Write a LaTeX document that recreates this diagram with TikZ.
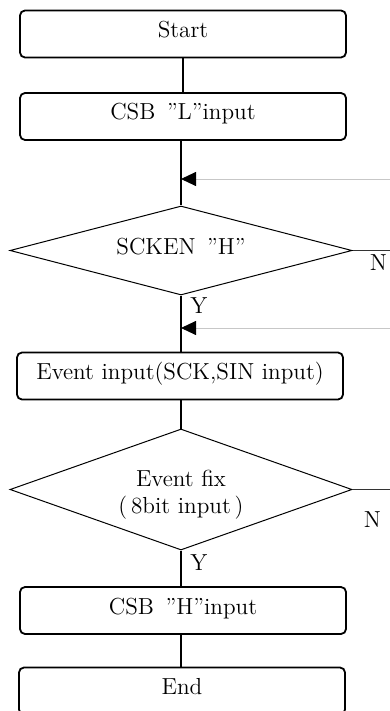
\documentclass[tikz,border=0pt]{standalone}
\usepackage{tikz}
\usetikzlibrary{positioning,shapes.geometric,arrows.meta,calc}
\tikzset{
  procbox/.style={draw,rounded corners=2.5pt,line width=0.9pt,minimum width=163pt,
    minimum height=23.5pt,inner sep=0pt,text height=8pt,text depth=4.5pt},
  decision/.style={draw,diamond,line width=0.5pt,minimum width=171pt,aspect=3.8,
    inner sep=0pt,align=center},
  flow/.style={line width=0.9pt},
  loopback/.style={draw=black!22,line width=0.45pt,
    -{Triangle[length=7.5pt,width=7pt,color=black]}},
  exitline/.style={draw=black!80,line width=0.5pt}
}
\begin{document}
\begin{tikzpicture}[x=0.5pt,y=-0.5pt,font=\fontsize{11.6}{13.5}\selectfont]
    \useasboundingbox (0,0) rectangle (390,711);
    \begin{scope}[every node/.style={procbox}]
        \node (start) at (183,34) {Start};
        \node (csbl) at (183,116.5) {CSB\enspace''L''input};
        \node (evin) at (180,376) {Event input(SCK,SIN input)};
        \node (csbh) at (183,610.5) {CSB\enspace''H''input};
        \node (end) at (182,691) {End};
    \end{scope}
    \begin{scope}[every node/.style={decision}]
        \node[minimum height=44.5pt,text depth=4pt] (scken) at (181,250.5) {SCKEN\enspace''H''};
        \node[minimum height=60.5pt,aspect=2.5] (fix) at (181,489.5) {\rule{0pt}{13pt}Event fix\\(\,8bit input\,)};
    \end{scope}
    \coordinate (loopa) at (390,179);
    \coordinate (loopb) at (390,328);
    \begin{scope}[every path/.style={flow}]
        \draw (start) -- (csbl);
        \draw (csbl.south -| scken.north) -- (scken.north);
        \draw (scken.south) -- (scken.south |- evin.north);
        \draw (evin.south -| fix.north) -- (fix.north);
        \draw (fix.south) -- (fix.south |- csbh.north);
        \draw (csbh.south -| fix.south) -- (end.north -| fix.south);
    \end{scope}
    \path [loopback] (loopa) -- (loopa -| scken.north);
    \path [loopback] (loopb) -- (loopb -| scken.north);
    \path [exitline] (scken.east) -- (scken.east -| loopa);
    \path [exitline] (fix.east) -- (fix.east -| loopa);
    \node (n1) at ($(scken.east)+(26,12)$) {N};
    \node (n2) at ($(fix.east)+(20,30)$) {N};
    \node (y1) at ($(scken.south)+(18,10)$) {Y};
    \node (y2) at ($(fix.south)+(18,12)$) {Y};
\end{tikzpicture}
\end{document}
